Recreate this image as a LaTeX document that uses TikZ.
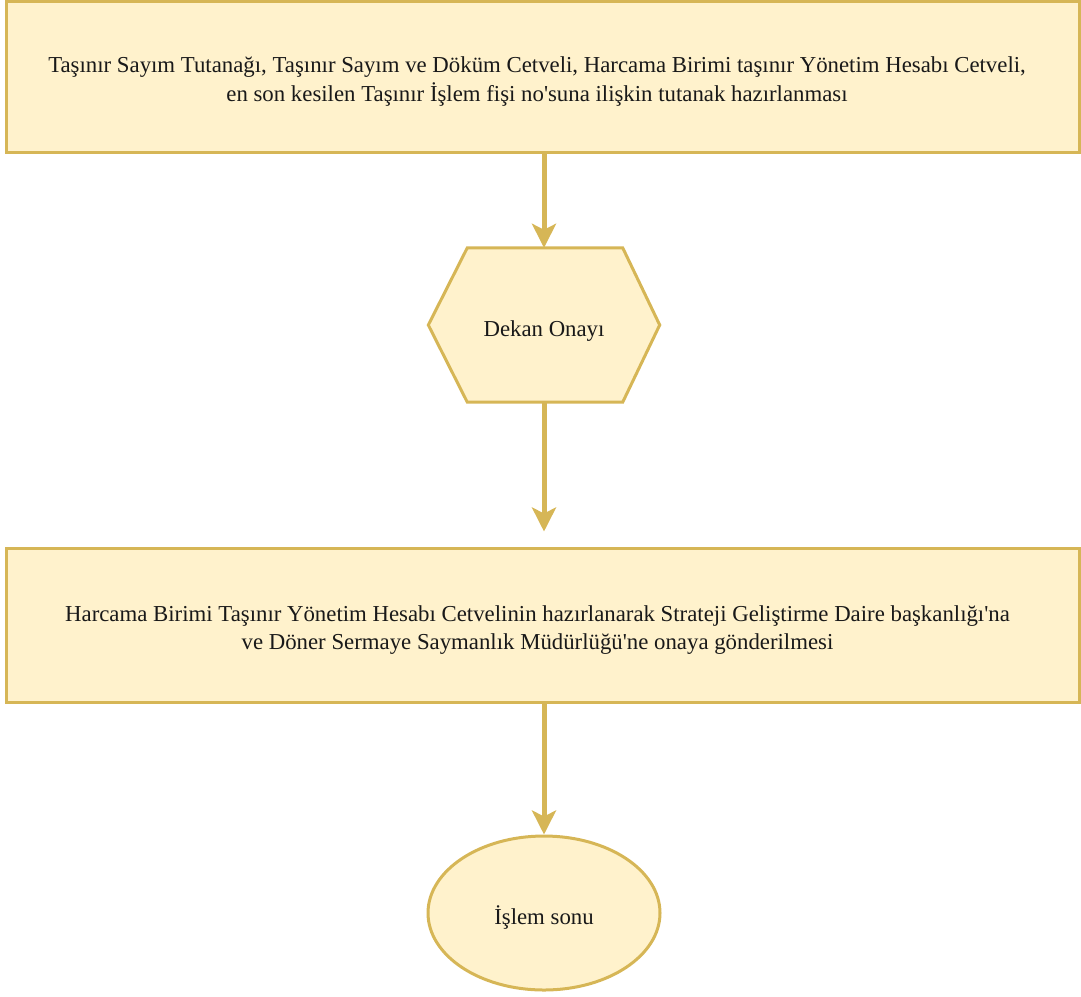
\documentclass[tikz,border=0pt]{standalone}
\usepackage{fontspec}
\setmainfont{Liberation Serif}[Ligatures=TeXOff]
\usetikzlibrary{arrows.meta,shapes.geometric}
\definecolor{yfill}{HTML}{FFF2CC}
\definecolor{ydraw}{HTML}{D6B656}
\begin{document}
\begin{tikzpicture}[x=1pt,y=-1pt,
  txt/.style={font=\fontsize{22.8}{28.5}\selectfont,text=black!90,align=center,inner sep=0pt},
  box/.style={draw=ydraw,fill=yfill,line width=3pt,minimum width=1073pt,inner sep=0pt},
  hexbox/.style={minimum width=231pt,minimum height=154pt,inner sep=0pt},
  endbox/.style={ellipse,draw=ydraw,fill=yfill,line width=3pt,minimum width=232pt,minimum height=154pt,inner sep=0pt},
  conn/.style={draw=ydraw,line width=5pt,-{Stealth[length=24pt,width=24pt,inset=6pt]}},
]
\useasboundingbox (0,0) rectangle (1081,996);
\node[box,minimum height=151pt] (b1) at (542.5,76.5) {};
\node[txt] (t1) at ([xshift=-5.5pt,yshift=-5pt]b1.center) {Taşınır Sayım Tutanağı, Taşınır Sayım ve Döküm Cetveli, Harcama Birimi taşınır Yönetim Hesabı Cetveli,\\en son kesilen Taşınır İşlem fişi no'suna ilişkin tutanak hazırlanması};
\node[hexbox] (hx) at (544,325) {};
\filldraw[draw=ydraw,fill=yfill,line width=3pt,line join=miter]
  (hx.west) -- ([xshift=39pt]hx.north west) -- ([xshift=-37pt]hx.north east) -- (hx.east)
  -- ([xshift=-37pt]hx.south east) -- ([xshift=39pt]hx.south west) -- cycle;
\node[txt] (t2) at ([yshift=-6pt]hx.center) {Dekan Onayı};
\node[box,minimum height=154pt] (b2) at (542.5,625) {};
\node[txt] (t3) at ([xshift=-5pt,yshift=-5pt]b2.center) {Harcama Birimi Taşınır Yönetim Hesabı Cetvelinin hazırlanarak Strateji Geliştirme Daire başkanlığı'na\\ve Döner Sermaye Saymanlık Müdürlüğü'ne onaya gönderilmesi};
\node[endbox] (e) at (544,913) {};
\node[txt] (t4) at ([yshift=-5pt]e.center) {İşlem sonu};
\draw[conn] (b1.south -| hx.north) -- (hx.north);
\draw[conn,shorten >=15pt] (hx.south) -- (hx.south |- b2.north);
\draw[conn] (b2.south -| e.north) -- (e.north);
\end{tikzpicture}
\end{document}
